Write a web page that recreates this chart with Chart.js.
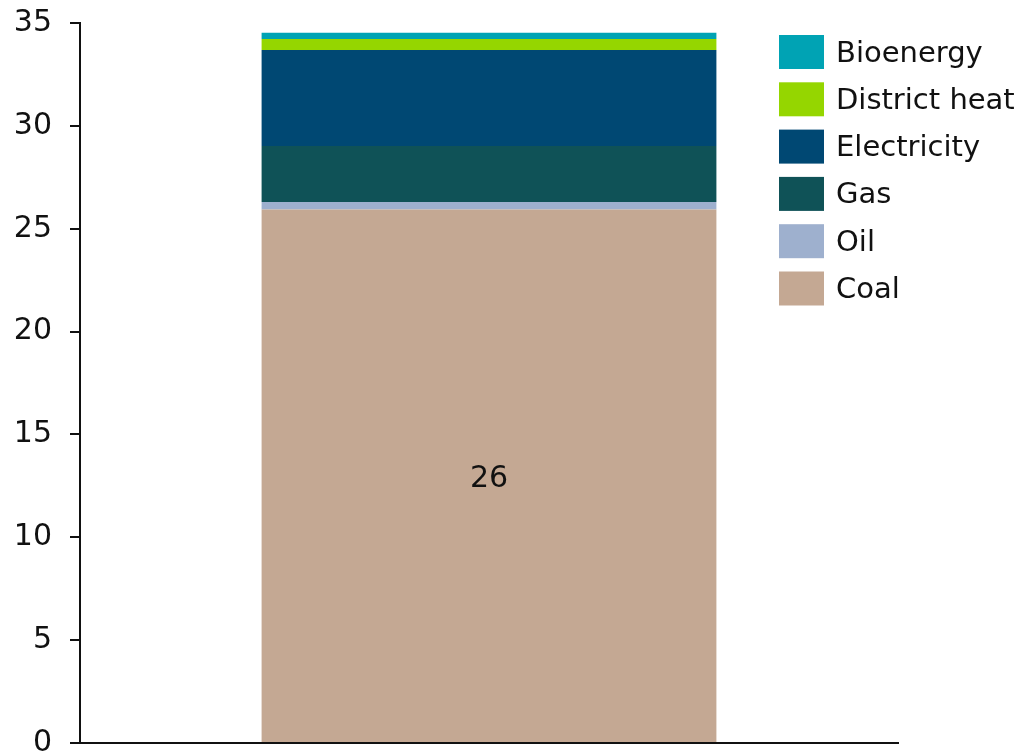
<!DOCTYPE html>
<html>
<head>
<meta charset="utf-8">
<script src="https://cdn.jsdelivr.net/npm/chart.js@4"></script>
<style>
  html, body { margin: 0; padding: 0; background: #fff; }
  #wrap { width: 1022px; height: 756px; }
</style>
</head>
<body>
<div id="wrap"><canvas id="chart" width="1022" height="756"></canvas></div>
<script>
// values (stack from bottom to top)
const categories = [''];
const seriesNames = ['Coal', 'Oil', 'Gas', 'Electricity', 'District heat', 'Bioenergy'];
const coal = [25.94];
const oil = [0.36];
const gas = [2.72];
const electricity = [4.67];
const districtHeat = [0.53];
const bioenergy = [0.30];
const yTicks = [0, 5, 10, 15, 20, 25, 30, 35];

const colors = ['#c4a893', '#9eb0ce', '#0f5257', '#004873', '#95d600', '#00a3b4'];
const seriesValues = [coal, oil, gas, electricity, districtHeat, bioenergy];
const FONT = 'DejaVu Sans';

const datasets = seriesNames.map((name, i) => ({
  label: name,
  data: seriesValues[i],
  backgroundColor: colors[i],
  borderWidth: 0,
  categoryPercentage: 1,
  barPercentage: 0.556
}));

// label inside the coal segment
const valueLabel = {
  id: 'valueLabel',
  afterDatasetsDraw(chart) {
    const ctx = chart.ctx;
    const bar = chart.getDatasetMeta(0).data[0];
    ctx.save();
    ctx.font = '30px "' + FONT + '"';
    ctx.fillStyle = '#111';
    ctx.textAlign = 'center';
    ctx.textBaseline = 'middle';
    ctx.fillText(Math.round(coal[0]).toString(), bar.x, (bar.y + bar.base) / 2 + 4);
    ctx.restore();
  }
};

// legend drawn top right, topmost series first
const sideLegend = {
  id: 'sideLegend',
  afterDraw(chart) {
    const ctx = chart.ctx;
    ctx.save();
    ctx.font = '29px "' + FONT + '"';
    ctx.textBaseline = 'middle';
    const order = seriesNames.map((n, i) => i).reverse();
    order.forEach((idx, row) => {
      const y = 35 + row * 47.3;
      ctx.fillStyle = colors[idx];
      ctx.fillRect(779, y, 45, 34);
      ctx.fillStyle = '#111';
      ctx.fillText(seriesNames[idx], 836, y + 19);
    });
    ctx.restore();
  }
};

new Chart(document.getElementById('chart'), {
  type: 'bar',
  data: { labels: categories, datasets: datasets },
  options: {
    responsive: false,
    animation: false,
    layout: { padding: { left: 0, right: 124, top: 23, bottom: 0 } },
    plugins: { legend: { display: false }, tooltip: { enabled: false } },
    scales: {
      x: {
        stacked: true,
        ticks: { display: false },
        grid: { display: false },
        border: { display: true, color: '#111', width: 2 },
        afterFit(s) { s.height = 13; s.paddingLeft = 0; s.paddingRight = 0; }
      },
      y: {
        stacked: true,
        min: 0,
        max: 35,
        afterBuildTicks(s) { s.ticks = yTicks.map(v => ({ value: v })); },
        ticks: {
          font: { family: FONT, size: 30 },
          color: '#111',
          padding: 18
        },
        grid: { drawOnChartArea: false, drawTicks: true, tickLength: 10, color: '#111', lineWidth: 2 },
        border: { display: true, color: '#111', width: 2 },
        afterFit(s) { s.width = 80; s.paddingTop = 0; s.paddingBottom = 0; }
      }
    }
  },
  plugins: [valueLabel, sideLegend]
});
</script>
</body>
</html>
